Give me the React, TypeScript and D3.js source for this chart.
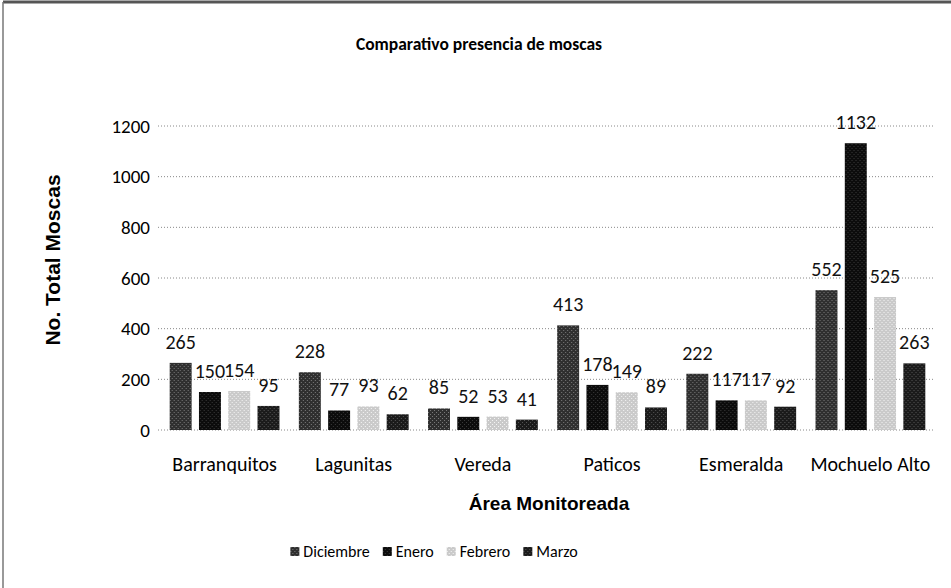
import { useEffect, useRef } from "react";
import * as d3 from "d3";

const categories = ["Barranquitos", "Lagunitas", "Vereda", "Paticos", "Esmeralda", "Mochuelo Alto"];
const months = ["Diciembre", "Enero", "Febrero", "Marzo"];
const diciembre = [265, 228, 85, 413, 222, 552];
const enero = [150, 77, 52, 178, 117, 1132];
const febrero = [154, 93, 53, 149, 117, 525];
const marzo = [95, 62, 41, 89, 92, 263];
const yTicks = [0, 200, 400, 600, 800, 1000, 1200];

const series = [diciembre, enero, febrero, marzo];
const colors = ["#2f2f2f", "#0c0c0c", "#cacaca", "#1b1b1b"];
const speckle = ["#7a7a7a", "#3a3a3a", "#f4f4f4", "#555"];

const W = 951;
const H = 588;
const font = "Carlito, Calibri, Lato, sans-serif";

const App = () => {
  const ref = useRef<SVGSVGElement | null>(null);

  useEffect(() => {
    document.body.style.margin = "0";
    if (!ref.current) return;
    const svg = d3.select(ref.current);
    svg.selectAll("*").remove();

    // textures, the scan makes the bars look grainy
    const defs = svg.append("defs");
    colors.forEach((c, i) => {
      const p = defs
        .append("pattern")
        .attr("id", "tex" + i)
        .attr("width", 4)
        .attr("height", 4)
        .attr("patternUnits", "userSpaceOnUse");
      p.append("rect").attr("width", 4).attr("height", 4).attr("fill", c);
      p.append("rect").attr("x", 0).attr("y", 0).attr("width", 1).attr("height", 1).attr("fill", speckle[i]);
      p.append("rect").attr("x", 2).attr("y", 2).attr("width", 1).attr("height", 1).attr("fill", speckle[i]);
    });

    // frame
    svg.append("line").attr("x1", 3).attr("x2", W).attr("y1", 2).attr("y2", 2)
      .attr("stroke", "#555").attr("stroke-width", 3);
    svg.append("line").attr("x1", 3).attr("x2", 3).attr("y1", 2).attr("y2", H)
      .attr("stroke", "#777").attr("stroke-width", 1.5);

    const x0 = d3.scaleBand().domain(categories).range([160, 935]).paddingInner(0.15).paddingOuter(0.075);
    const x1 = d3.scaleBand().domain(months).range([0, x0.bandwidth()]).paddingInner(0.25);
    const y = d3.scaleLinear().domain([0, 1200]).range([430, 126]);

    // grid
    svg.append("g")
      .selectAll("line")
      .data(yTicks)
      .join("line")
      .attr("x1", 158)
      .attr("x2", 935)
      .attr("y1", (d) => y(d))
      .attr("y2", (d) => y(d))
      .attr("stroke", "#888")
      .attr("stroke-dasharray", "1,2");

    svg.append("g")
      .selectAll("text")
      .data(yTicks)
      .join("text")
      .attr("x", 150)
      .attr("y", (d) => y(d))
      .attr("dy", "0.35em")
      .attr("text-anchor", "end")
      .attr("font-family", font)
      .attr("font-size", 19)
      .text((d) => d);

    const groups = svg.append("g")
      .selectAll("g")
      .data(categories)
      .join("g")
      .attr("transform", (d) => `translate(${x0(d)},0)`);

    groups.selectAll("rect")
      .data((_, ci) => series.map((s, si) => ({ m: months[si], v: s[ci], si })))
      .join("rect")
      .attr("x", (d) => x1(d.m)!)
      .attr("width", x1.bandwidth())
      .attr("y", (d) => y(d.v))
      .attr("height", (d) => y(0) - y(d.v))
      .attr("fill", (d) => `url(#tex${d.si})`);

    groups.selectAll("text")
      .data((_, ci) => series.map((s, si) => ({ m: months[si], v: s[ci] })))
      .join("text")
      .attr("x", (d) => x1(d.m)! + x1.bandwidth() / 2)
      .attr("y", (d) => y(d.v) - 14)
      .attr("text-anchor", "middle")
      .attr("font-family", font)
      .attr("font-size", 20)
      .attr("fill", "#111")
      .text((d) => d.v);

    svg.append("g")
      .selectAll("text")
      .data(categories)
      .join("text")
      .attr("x", (d) => x0(d)! + x0.bandwidth() / 2)
      .attr("y", 471)
      .attr("text-anchor", "middle")
      .attr("font-family", font)
      .attr("font-size", 20)
      .text((d) => d);

    svg.append("text")
      .attr("x", 479)
      .attr("y", 50)
      .attr("text-anchor", "middle")
      .attr("font-family", font)
      .attr("font-weight", "bold")
      .attr("font-size", 17.5)
      .text("Comparativo presencia de moscas");

    svg.append("text")
      .attr("transform", "translate(60,260) rotate(-90)")
      .attr("text-anchor", "middle")
      .attr("font-family", "Liberation Sans, Arial, sans-serif")
      .attr("font-weight", "bold")
      .attr("font-size", 21)
      .text("No. Total Moscas");

    svg.append("text")
      .attr("x", 549)
      .attr("y", 510)
      .attr("text-anchor", "middle")
      .attr("font-family", "Liberation Sans, Arial, sans-serif")
      .attr("font-weight", "bold")
      .attr("font-size", 19)
      .text("Área Monitoreada");

    // legend, laid out from measured text widths
    const lg = svg.append("g");
    let cx = 0;
    months.forEach((m, i) => {
      const it = lg.append("g").attr("transform", `translate(${cx},0)`);
      it.append("rect").attr("x", 0).attr("y", -4).attr("width", 9).attr("height", 9)
        .attr("fill", `url(#tex${i})`);
      const t = it.append("text")
        .attr("x", 13)
        .attr("dy", "0.38em")
        .attr("font-family", font)
        .attr("font-size", 16)
        .text(m);
      const w = (t.node() as SVGTextElement).getComputedTextLength();
      cx += 13 + w + 13;
    });
    const total = cx - 13;
    lg.attr("transform", `translate(${434 - total / 2},551)`);
  }, []);

  return <svg ref={ref} width={W} height={H} style={{ display: "block", background: "#fff" }} />;
};

export default App;
